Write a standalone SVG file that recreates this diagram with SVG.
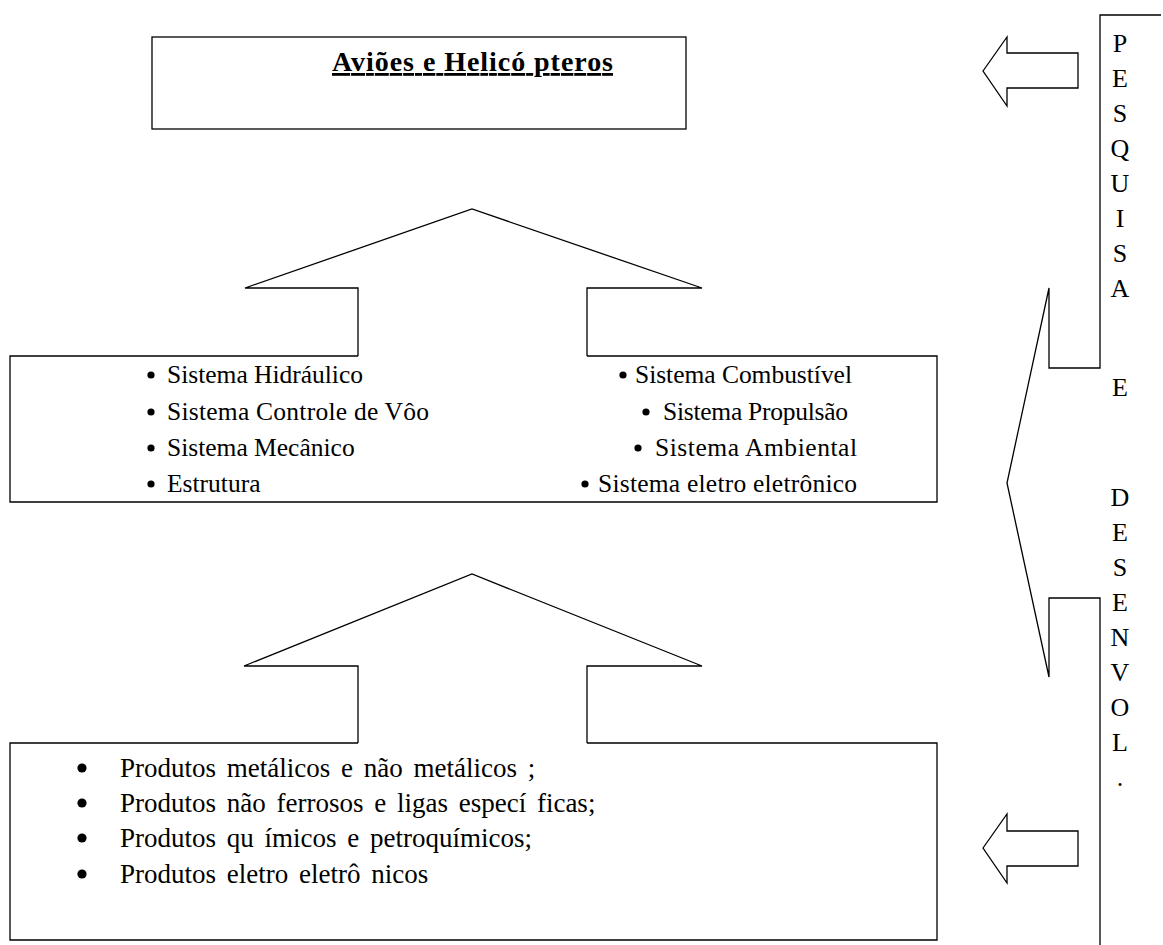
<svg xmlns="http://www.w3.org/2000/svg" width="1163" height="945" viewBox="0 0 1163 945">
<style>
.ln{fill:none;stroke:#000;stroke-width:1.3}
.ar{fill:#fff;stroke:#000;stroke-width:1.3}
.t{font-family:"Liberation Serif","Times New Roman",serif;font-size:25.5px;fill:#000}
.p{font-family:"Liberation Serif","Times New Roman",serif;font-size:27px;fill:#000;word-spacing:4px}
.dot{fill:#000}
.v{font-family:"Liberation Serif","Times New Roman",serif;font-size:26px;fill:#000;text-anchor:middle}
.ttl{font-family:"Liberation Serif","Times New Roman",serif;font-size:28px;font-weight:bold;fill:#000;text-decoration:underline}
</style>
<rect width="1163" height="945" fill="#fff"/>
<g id="top-box">
<rect x="152" y="37" width="534" height="92" class="ln"/>
<text class="ttl" x="332" y="71" textLength="281" lengthAdjust="spacing">Aviões  e Helicó pteros</text>
</g>
<g id="middle-box">
<path d="M358,356 L10,356 L10,502 L937,502 L937,356 L587,356" class="ln"/>
<circle class="dot" cx="151" cy="375" r="3.6"/><text class="t" x="167" y="383" textLength="196" lengthAdjust="spacing">Sistema Hidráulico</text>
<circle class="dot" cx="151" cy="412" r="3.6"/><text class="t" x="167" y="420" textLength="262" lengthAdjust="spacing">Sistema Controle de Vôo</text>
<circle class="dot" cx="151" cy="448" r="3.6"/><text class="t" x="167" y="456">Sistema Mecânico</text>
<circle class="dot" cx="151" cy="484" r="3.6"/><text class="t" x="167" y="492">Estrutura</text>
<circle class="dot" cx="623" cy="375" r="3.6"/><text class="t" x="635" y="383" textLength="217" lengthAdjust="spacing">Sistema Combustível</text>
<circle class="dot" cx="646" cy="412" r="3.6"/><text class="t" x="663" y="420" textLength="185" lengthAdjust="spacing">Sistema Propulsão</text>
<circle class="dot" cx="638" cy="448" r="3.6"/><text class="t" x="655" y="456" textLength="202" lengthAdjust="spacing">Sistema Ambiental</text>
<circle class="dot" cx="585" cy="484" r="3.6"/><text class="t" x="598" y="492" textLength="259" lengthAdjust="spacing">Sistema eletro eletrônico</text>
</g>
<g id="bottom-box">
<path d="M358,743 L10,743 L10,940 L937,940 L937,743 L587,743" class="ln"/>
<circle class="dot" cx="82" cy="768" r="4.6"/><text class="p" x="120" y="777">Produtos metálicos e não metálicos  ;</text>
<circle class="dot" cx="82" cy="803" r="4.6"/><text class="p" x="120" y="812">Produtos  não  ferrosos e ligas especí ficas;</text>
<circle class="dot" cx="82" cy="838" r="4.6"/><text class="p" x="120" y="847">Produtos qu ímicos e petroquímicos;</text>
<circle class="dot" cx="82" cy="874" r="4.6"/><text class="p" x="120" y="883">Produtos  eletro eletrô nicos</text>
</g>
<g id="research-column">
<path d="M1161,15 L1100,15 L1100,368 L1049,368 L1049,288 L1007,483 L1049,677 L1049,598 L1100,598 L1100,945" class="ln"/>
<text class="v" x="1120" y="52">P</text>
<text class="v" x="1120" y="87">E</text>
<text class="v" x="1120" y="122">S</text>
<text class="v" x="1120" y="157">Q</text>
<text class="v" x="1120" y="192">U</text>
<text class="v" x="1120" y="227">I</text>
<text class="v" x="1120" y="262">S</text>
<text class="v" x="1120" y="297">A</text>
<text class="v" x="1120" y="396">E</text>
<text class="v" x="1120" y="506">D</text>
<text class="v" x="1120" y="541">E</text>
<text class="v" x="1120" y="576">S</text>
<text class="v" x="1120" y="611">E</text>
<text class="v" x="1120" y="646">N</text>
<text class="v" x="1120" y="681">V</text>
<text class="v" x="1120" y="716">O</text>
<text class="v" x="1120" y="751">L</text>
<text class="v" x="1120" y="786">.</text>
</g>
<g id="connectors">
<path d="M358,356 L358,288 L245,288 L472,209 L702,288 L587,288 L587,356" class="ln"/>
<path d="M358,743 L358,666 L244,666 L472,574 L702,666 L587,666 L587,743" class="ln"/>
<polygon points="983,71 1007,37 1007,53 1078,53 1078,88 1007,88 1007,106" class="ar"/>
<polygon points="983,848 1007,814 1007,831 1078,831 1078,866 1007,866 1007,883" class="ar"/>
</g>
</svg>
